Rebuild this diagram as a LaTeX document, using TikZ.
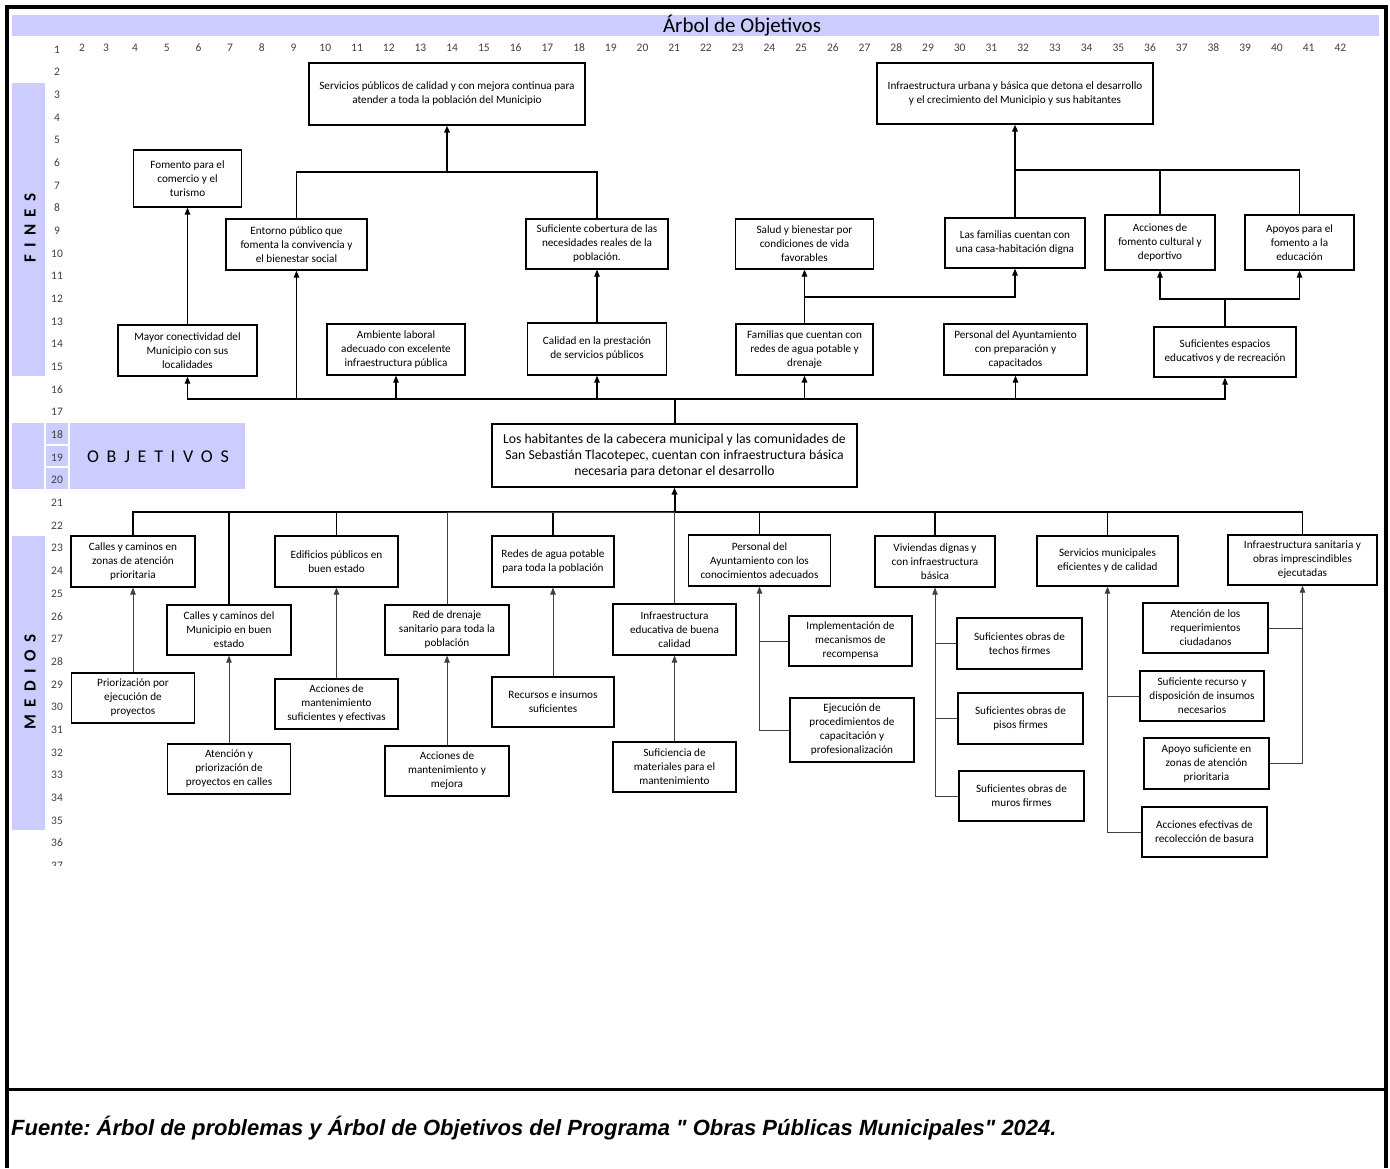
\documentclass[tikz,border=0pt]{standalone}
\usepackage{fontspec}
\setmainfont{Carlito}
\newfontfamily\fuentefont{Liberation Sans}
\newfontfamily\bandfont[WordSpace=1.9]{Carlito}
\usetikzlibrary{arrows.meta}
\definecolor{banda}{HTML}{CCCCFF}
\definecolor{numgris}{HTML}{404040}
\frenchspacing

\begin{document}
\begin{tikzpicture}[x=1pt,y=-1pt,
    >={Triangle[length=7pt,width=5.5pt]},
    liga/.style={line width=1.1pt},
    gruesa/.style={line width=2pt},
    fina/.style={line width=0.8pt,black!75}]

  \useasboundingbox (0,0) rectangle (1390,1168);

  % bandas de color
  \fill[banda] (12,15) rectangle (1379,36);
  \fill[banda] (12,83) rectangle (45,376);
  \fill[banda] (12,423) rectangle (245,489);
  \fill[banda] (12,536) rectangle (45,830);
  \draw[white,line width=1.5pt] (45,423) -- (45,489) (69,423) -- (69,489)
    (45,445) -- (69,445) (45,467) -- (69,467);

  \node[font=\fontsize{21}{22}\selectfont, inner sep=0pt] (titulo) at (742,25.5) {Árbol de Objetivos};
  \node[font=\bandfont\bfseries\fontsize{17}{20}\selectfont, rotate=90] (fines) at (30,228) {F I N E S};
  \node[font=\bandfont\bfseries\fontsize{17}{20}\selectfont, rotate=90] (medios) at (30,682) {M E D I O S};
  \node[font=\bandfont\fontsize{18}{20}\selectfont] (objetivos) at (158,457) {O B J E T I V O S};

  % numeros de fila y columna
  \begin{scope}[every node/.style={text=numgris, font=\fontsize{11.5}{12}\selectfont, inner sep=0pt}]
    \node at (82,48) {2};
    \node at (106,48) {3};
    \foreach \c in {4,...,42}
      \node at ({135+(\c-4)*31.72},48) {\c};
    \foreach \r in {1,...,36}
      \node at (57,{49.3+(\r-1)*22.68}) {\r};
    \clip (40,850) rectangle (80,865);
    \node at (57,{49.3+36*22.68}) {37};
  \end{scope}

  \begin{scope}[every node/.style={draw, line width=1.2pt, align=center, inner sep=2pt, font=\fontsize{11.2}{14}\selectfont}]
    % fines
    \node[minimum width=276, minimum height=62] (f1) at (447,94) {Servicios públicos de calidad y con mejora continua para\\atender a toda la población del Municipio};
    \node[minimum width=276, minimum height=61] (f2) at (1015,93.5) {Infraestructura urbana y básica que detona el desarrollo\\y el crecimiento del Municipio y sus habitantes};
    \node[minimum width=108, minimum height=57] (f3) at (187.5,178.5) {Fomento para el\\comercio y el\\turismo};
    \node[minimum width=141, minimum height=51] (f4) at (296.5,244.5) {Entorno público que\\fomenta la convivencia y\\el bienestar social};
    \node[minimum width=142, minimum height=50] (f5) at (597,244) {Suficiente cobertura de las\\necesidades reales de la\\población.};
    \node[minimum width=138, minimum height=50] (f6) at (804.5,244) {Salud y bienestar por\\condiciones de vida\\favorables};
    \node[minimum width=140, minimum height=50] (f7) at (1015,243) {Las familias cuentan con\\una casa-habitación digna};
    \node[minimum width=110, minimum height=55] (f8) at (1160,242.5) {Acciones de\\fomento cultural y\\deportivo};
    \node[minimum width=109, minimum height=55] (f9) at (1299.5,242.5) {Apoyos para el\\fomento a la\\educación};
    \node[minimum width=139, minimum height=51] (f10) at (187.5,350.5) {Mayor conectividad del\\Municipio con sus\\localidades};
    \node[minimum width=138, minimum height=51] (f11) at (396,349.5) {Ambiente laboral\\adecuado con excelente\\infraestructura pública};
    \node[minimum width=139, minimum height=52] (f12) at (597,349) {Calidad en la prestación\\de servicios públicos};
    \node[minimum width=137, minimum height=51] (f13) at (804.5,349.5) {Familias que cuentan con\\redes de agua potable y\\drenaje};
    \node[minimum width=143, minimum height=51] (f14) at (1015.5,349.5) {Personal del Ayuntamiento\\con preparación y\\capacitados};
    \node[minimum width=142, minimum height=50] (f15) at (1225,352) {Suficientes espacios\\educativos y de recreación};

    % objetivo
    \node[minimum width=365, minimum height=63, font=\fontsize{13.7}{16}\selectfont] (o) at (674.5,455.5) {Los habitantes de la cabecera municipal y las comunidades de\\San Sebastián Tlacotepec, cuentan con infraestructura básica\\necesaria para detonar el desarrollo};

    % medios
    \node[minimum width=124, minimum height=51] (m1) at (133,561.5) {Calles y caminos en\\zonas de atención\\prioritaria};
    \node[minimum width=124, minimum height=50] (m2) at (229,630) {Calles y caminos del\\Municipio en buen\\estado};
    \node[minimum width=123, minimum height=51] (m3) at (336.5,561.5) {Edificios públicos en\\buen estado};
    \node[minimum width=124, minimum height=50] (m4) at (447,630) {Red de drenaje\\sanitario para toda la\\población};
    \node[minimum width=122, minimum height=51] (m5) at (553,561.5) {Redes de agua potable\\para toda la población};
    \node[minimum width=123, minimum height=51] (m6) at (674.5,629.5) {Infraestructura\\educativa de buena\\calidad};
    \node[minimum width=142, minimum height=51] (m7) at (759.5,560.5) {Personal del\\Ayuntamiento con los\\conocimientos adecuados};
    \node[minimum width=120, minimum height=51] (m8) at (935,561.5) {Viviendas dignas y\\con infraestructura\\básica};
    \node[minimum width=141, minimum height=50] (m9) at (1107.5,561) {Servicios municipales\\eficientes y de calidad};
    \node[minimum width=149, minimum height=50] (m10) at (1302.5,560) {Infraestructura sanitaria y\\obras imprescindibles\\ejecutadas};

    \node[minimum width=123, minimum height=50] (s1) at (133,698) {Priorización por\\ejecución de\\proyectos};
    \node[minimum width=123, minimum height=50] (s2) at (229,769) {Atención y\\priorización de\\proyectos en calles};
    \node[minimum width=123, minimum height=50] (s3) at (336.5,704) {Acciones de\\mantenimiento\\suficientes y efectivas};
    \node[minimum width=124, minimum height=50] (s4) at (447,771) {Acciones de\\mantenimiento y\\mejora};
    \node[minimum width=122, minimum height=50] (s5) at (553,702) {Recursos e insumos\\suficientes};
    \node[minimum width=123, minimum height=50] (s6) at (674.5,767) {Suficiencia de\\materiales para el\\mantenimiento};
    \node[minimum width=123, minimum height=50] (s7) at (850.5,641) {Implementación de\\mecanismos de\\recompensa};
    \node[minimum width=124, minimum height=64] (s8) at (852,730) {Ejecución de\\procedimientos de\\capacitación y\\profesionalización};
    \node[minimum width=125, minimum height=51] (s9) at (1019.5,643.5) {Suficientes obras de\\techos firmes};
    \node[minimum width=125, minimum height=51] (s10) at (1020.5,718.5) {Suficientes obras de\\pisos firmes};
    \node[minimum width=125, minimum height=50] (s11) at (1021.5,796) {Suficientes obras de\\muros firmes};
    \node[minimum width=124, minimum height=50] (s12) at (1202,696) {Suficiente recurso y\\disposición de insumos\\necesarios};
    \node[minimum width=125, minimum height=50] (s13) at (1204.5,832) {Acciones efectivas de\\recolección de basura};
    \node[minimum width=125, minimum height=50] (s14) at (1205.5,628) {Atención de los\\requerimientos\\ciudadanos};
    \node[minimum width=125, minimum height=51] (s15) at (1206.5,763.5) {Apoyo suficiente en\\zonas de atención\\prioritaria};
  \end{scope}

  % uniones
  \coordinate (jf1) at (447,172);
  \coordinate (jfb) at (674.5,399);
  \coordinate (jfs) at (804.5,297);
  \coordinate (jfi) at (1015,170);
  \coordinate (jfe) at (1225,299);
  \coordinate (jmb) at (674.5,512);

  % fines
  \draw[liga] (f4.north) |- (jf1) -| (f5.north);
  \draw[gruesa,->] (jf1) -- (f1.south);
  \draw[liga,->] (f10.north) -- (f3.south);
  \draw[liga,->] (f12.north) -- (f5.south);
  \draw[gruesa] (o.north) -- (jfb);
  \foreach \n in {f4,f10,f11,f12,f13,f14,f15}
    \draw[liga,->] (jfb) -| (\n.south);
  \draw[liga] (f13.north) -- (jfs);
  \draw[liga,->] (jfs) -- (f6.south);
  \draw[liga,->] (jfs) -| (f7.south);
  \draw[liga] (f7.north) -- (jfi);
  \draw[gruesa,->] (jfi) -- (f2.south);
  \draw[liga] (jfi) -| (f8.north);
  \draw[liga] (jfi) -| (f9.north);
  \draw[liga] (f15.north) -- (jfe);
  \draw[liga,->] (jfe) -| (f8.south);
  \draw[liga,->] (jfe) -| (f9.south);

  % medios
  \draw[gruesa,->] (jmb) -- (o.south);
  \draw[gruesa] (jmb -| m1.north) -- (jmb -| m10.north);
  \foreach \i in {1,2,3,5,7,8,9,10}
    \draw[liga] (jmb) -| (m\i.north);
  \foreach \i in {4,6}
    \draw[fina] (jmb) -| (m\i.north);
  \foreach \i in {1,...,6}
    \draw[fina,->] (s\i.north) -- (m\i.south);
  \draw[fina,->] (s8.west) -| (m7.south);
  \draw[fina] (s7.west) -- (s7.west -| m7.south);
  \draw[fina,->] (s11.west) -| (m8.south);
  \draw[fina] (s9.west) -- (s9.west -| m8.south);
  \draw[fina] (s10.west) -- (s10.west -| m8.south);
  \draw[fina,->] (s13.west) -| (m9.south);
  \draw[fina] (s12.west) -- (s12.west -| m9.south);
  \draw[fina,->] (s15.east) -| (m10.south);
  \draw[fina] (s14.east) -- (s14.east -| m10.south);

  % marco y fuente
  \draw[line width=4pt] (7,1168) -- (7,6.5) -- (1386,6.5) -- (1386,1168);
  \draw[line width=3pt] (7,1089.5) -- (1386,1089.5);
  \node[anchor=west, inner sep=0pt, font=\fuentefont\bfseries\itshape\fontsize{22}{24}\selectfont] (fuente) at (11,1128) {Fuente: Árbol de problemas y Árbol de Objetivos del Programa " Obras Públicas Municipales" 2024.};

\end{tikzpicture}
\end{document}
